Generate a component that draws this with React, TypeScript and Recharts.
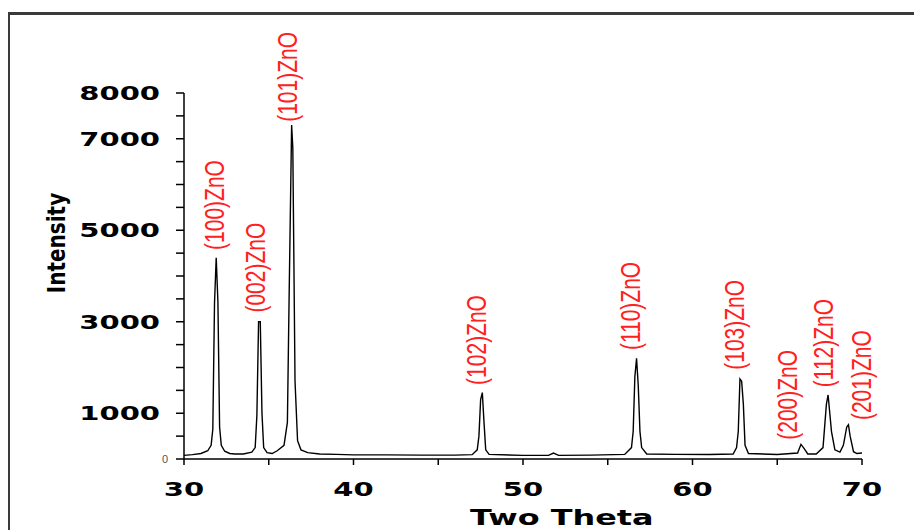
import React from 'react';
import { LineChart, Line, XAxis, YAxis, ReferenceDot } from 'recharts';

// 2-theta positions (deg) and measured intensity (counts)
const theta = [
  30.0, 30.5, 31.0, 31.4, 31.6, 31.7, 31.8, 31.9, 32.0, 32.1, 32.2, 32.4, 32.7, 33.0, 33.5,
  34.0, 34.2, 34.3, 34.4, 34.5, 34.6, 34.7, 34.9, 35.2, 35.5, 35.9, 36.1, 36.2, 36.35, 36.42,
  36.55, 36.7, 36.9, 37.3, 38.0, 39.0, 40.0, 42.0, 44.0, 46.0, 47.0, 47.3, 47.4, 47.5, 47.6,
  47.7, 47.8, 48.0, 50.0, 51.5, 51.8, 52.1, 54.0, 56.0, 56.4, 56.5, 56.6, 56.7, 56.8, 56.9,
  57.0, 57.3, 59.0, 61.0, 62.4, 62.6, 62.7, 62.8, 62.9, 63.0, 63.1, 63.3, 65.0, 66.2, 66.4,
  66.6, 66.8, 67.3, 67.7, 67.9, 68.0, 68.1, 68.2, 68.4, 68.7, 68.9, 69.1, 69.2, 69.3, 69.5,
  69.7, 70.0,
];
const intensity = [
  80, 95, 120, 180, 300, 650, 3400, 4400, 3450, 700, 300, 170, 120, 110, 110,
  150, 250, 950, 3000, 3000, 1000, 250, 140, 120, 180, 300, 800, 3500, 7300, 6800,
  1700, 400, 200, 140, 110, 100, 90, 90, 85, 85, 95, 200, 500, 1300, 1450,
  800, 200, 100, 80, 80, 130, 80, 85, 100, 250, 600, 1800, 2200, 1600, 600,
  250, 110, 100, 100, 110, 250, 600, 1750, 1700, 1200, 300, 120, 100, 130, 320,
  220, 110, 110, 250, 1200, 1400, 1000, 600, 200, 150, 300, 700, 750, 500, 160,
  120, 130,
];

// peak annotations: label text, anchor (theta, intensity where text starts)
const peakNames = ['(100)ZnO', '(002)ZnO', '(101)ZnO', '(102)ZnO', '(110)ZnO', '(103)ZnO', '(200)ZnO', '(112)ZnO', '(201)ZnO'];
const peakTheta = [31.77, 34.2, 36.13, 47.24, 56.32, 62.5, 65.58, 67.71, 69.99];
const peakLabelBase = [4570, 3200, 7370, 1620, 2380, 1950, 420, 1570, 850];

const xTicks = [30, 35, 40, 45, 50, 55, 60, 65, 70];
const xLabels = [30, 40, 50, 60, 70];
const yTicks = [0, 500, 1000, 1500, 2000, 2500, 3000, 3500, 4000, 4500, 5000, 5500, 6000, 6500, 7000, 7500, 8000];
const yLabels = [1000, 3000, 5000, 7000, 8000];

const data = theta.map((t, i) => ({ t, v: intensity[i] }));

const tickFont = '"DejaVu Sans", sans-serif';

const YTick = ({ x, y, payload }: any) => {
  const v = payload.value;
  if (v === 0) {
    return (
      <text x={x - 6} y={y} textAnchor="end" dominantBaseline="central" fontSize={11} fill="#555" fontFamily="Arial, sans-serif">
        0
      </text>
    );
  }
  if (!yLabels.includes(v)) return null;
  return (
    <text
      transform={`translate(${x - 14},${y}) scale(1.45,1)`}
      textAnchor="end"
      dominantBaseline="central"
      fontSize={20}
      fontWeight="bold"
      fill="#000"
      fontFamily={tickFont}
    >
      {v}
    </text>
  );
};

const XTick = ({ x, y, payload }: any) => {
  const v = payload.value;
  if (!xLabels.includes(v)) return null;
  return (
    <text
      transform={`translate(${x},${y + 22}) scale(1.45,1)`}
      textAnchor="middle"
      dominantBaseline="central"
      fontSize={20}
      fontWeight="bold"
      fill="#000"
      fontFamily={tickFont}
    >
      {v}
    </text>
  );
};

const PeakLabel = (name: string) => (props: any) => (
  <text
    transform={`translate(${props.cx},${props.cy}) rotate(-90) scale(1,1.3)`}
    textAnchor="start"
    dominantBaseline="central"
    fontSize={21}
    fill="#ff2020"
    fontFamily='"Liberation Sans", Arial, sans-serif'
  >
    {name}
  </text>
);

export default function App() {
  return (
    <div style={{ position: 'fixed', left: 0, top: 0, width: 914, height: 530, background: '#fff', overflow: 'hidden' }}>
      <div
        style={{
          position: 'absolute',
          left: 8,
          top: 12,
          width: 920,
          height: 540,
          borderLeft: '2px solid #3a3a3a',
          borderTop: '3px solid #3a3a3a',
        }}
      />
      <div style={{ position: 'absolute', left: 0, top: 0 }}>
        <LineChart width={914} height={530} data={data} margin={{ top: 93, right: 52, bottom: 30, left: 64 }}>
          <XAxis
            dataKey="t"
            type="number"
            domain={[30, 70]}
            ticks={xTicks}
            interval={0}
            tick={<XTick />}
            tickSize={6}
            height={41}
            axisLine={{ stroke: '#000', strokeWidth: 1.5 }}
            tickLine={{ stroke: '#000', strokeWidth: 1.5 }}
            label={{
              value: 'Two Theta',
              position: 'insideBottom',
              content: ({ viewBox }: any) => (
                <text
                  transform={`translate(${viewBox.x + viewBox.width / 2 - 53},${viewBox.y + 58}) scale(1.45,1)`}
                  textAnchor="start"
                  dominantBaseline="central"
                  fontSize={22}
                  fontWeight="bold"
                  fill="#000"
                  fontFamily={tickFont}
                >
                  Two Theta
                </text>
              ),
            }}
          />
          <YAxis
            type="number"
            domain={[0, 8000]}
            ticks={yTicks}
            interval={0}
            tick={<YTick />}
            tickSize={8}
            width={120}
            axisLine={{ stroke: '#000', strokeWidth: 1.5 }}
            tickLine={{ stroke: '#000', strokeWidth: 1.5 }}
            label={{
              value: 'Intensity',
              content: ({ viewBox }: any) => (
                <text
                  transform={`translate(${viewBox.x - 8},${viewBox.y + 150}) rotate(-90) scale(1,1.25)`}
                  textAnchor="middle"
                  dominantBaseline="central"
                  fontSize={20}
                  fontWeight="bold"
                  fill="#000"
                  fontFamily={tickFont}
                >
                  Intensity
                </text>
              ),
            }}
          />
          <Line
            type="linear"
            dataKey="v"
            stroke="#000"
            strokeWidth={1.4}
            dot={false}
            isAnimationActive={false}
          />
          {peakNames.map((name, i) => (
            <ReferenceDot
              key={name}
              x={peakTheta[i]}
              y={peakLabelBase[i]}
              r={0}
              ifOverflow="visible"
              shape={PeakLabel(name)}
            />
          ))}
        </LineChart>
      </div>
    </div>
  );
}
